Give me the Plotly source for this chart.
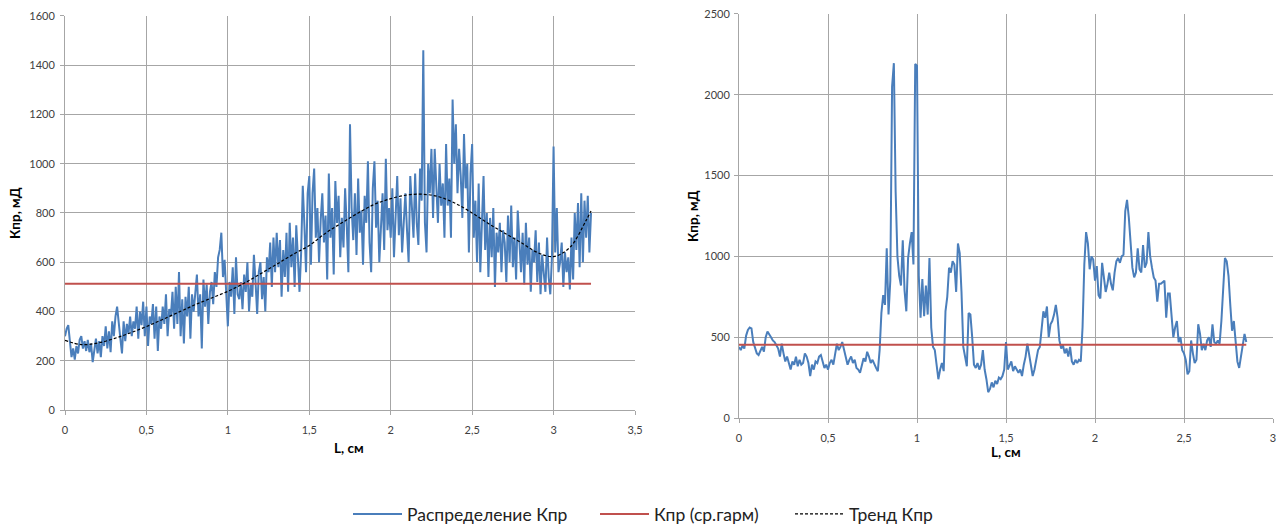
import numpy as np
import plotly.graph_objects as go

# ---------------- data ----------------
L_step = 0.01

# Left chart: permeability distribution (mD), sampled every 0.01 cm from 0
left_kpr = [
    300, 330, 345, 290, 215, 250, 205, 260, 230, 285,
    300, 250, 280, 240, 285, 235, 270, 195, 250, 290,
    230, 280, 215, 300, 260, 340, 250, 320, 235, 360,
    300, 380, 420, 340, 290, 230, 360, 280, 350, 310,
    380, 300, 360, 330, 420, 290, 400, 345, 440, 300,
    420, 260, 380, 350, 430, 290, 420, 240, 380, 330,
    420, 350, 470, 300, 410, 380, 480, 330, 500, 350,
    560, 300, 450, 270, 460, 380, 500, 290, 470, 400,
    480, 550, 380, 470, 250, 530, 420, 510, 350, 480,
    520, 430, 560, 500, 620, 650, 720, 540, 610, 480,
    340, 520, 460, 580, 390, 620, 470, 450, 520, 410,
    550, 480, 600, 400, 510, 460, 630, 520, 390, 560,
    600, 450, 540, 400, 620, 560, 680, 500, 700, 560,
    720, 580, 690, 460, 650, 540, 720, 480, 760, 580,
    700, 500, 750, 620, 480, 640, 910, 750, 560, 880,
    950, 590, 880, 980, 700, 820, 600, 770, 880, 680,
    790, 530, 960, 700, 820, 550, 930, 760, 870, 620,
    780, 660, 900, 750, 560, 1160, 820, 690, 880, 630,
    940, 720, 810, 590, 870, 760, 1010, 680, 560, 900,
    1010, 740, 850, 600, 780, 880, 650, 1020, 730, 820,
    700, 900, 620, 820, 950, 710, 860, 640, 780, 880,
    730, 600, 950, 820, 700, 960, 760, 670, 980, 850,
    1460, 760, 640, 1000, 880, 1060, 780, 1060, 920, 760,
    1000, 830, 920, 700, 1080, 830, 940, 700, 1260, 1000,
    1160, 880, 1060, 950, 780, 1120, 900, 1000, 640, 960,
    1080, 700, 850, 600, 920, 560, 760, 950, 650, 800,
    540, 780, 620, 820, 500, 720, 640, 760, 560, 730,
    680, 520, 790, 600, 830, 580, 700, 530, 810, 650,
    560, 720, 510, 760, 590, 700, 480, 650, 600, 730,
    520, 680, 470, 630, 560, 480, 700, 540, 470, 620,
    1070, 640, 820, 560, 600, 680, 500, 640, 560, 620,
    490, 700, 530, 800, 650, 840, 580, 880, 600, 850,
    700, 870, 640, 800,
]

# Left chart: harmonic mean line and trend
left_harm_L = [0, 3.23]
left_harm = [513, 513]
trend_L = [0.0, 0.1, 0.2, 0.3, 0.4, 0.5, 0.6, 0.7, 0.8, 0.9, 1.0, 1.1, 1.2, 1.3,
           1.4, 1.5, 1.6, 1.7, 1.8, 1.9, 2.0, 2.1, 2.2, 2.3, 2.4, 2.5, 2.6, 2.7,
           2.8, 2.9, 3.0, 3.1, 3.2, 3.23]
trend_kpr = [283, 266, 272, 290, 313, 339, 368, 398, 428, 455, 482, 515, 553, 592,
             632, 668, 718, 760, 800, 835, 858, 873, 876, 865, 838, 800, 757, 718,
             680, 640, 623, 660, 770, 808]

# Right chart: permeability distribution (mD), sampled every 0.01 cm from 0
right_kpr = [
    440, 420, 450, 430, 510, 545, 560, 555, 470, 430,
    400, 390, 420, 440, 410, 500, 535, 520, 500, 480,
    470, 450, 430, 380, 460, 400, 350, 380, 330, 300,
    350, 330, 380, 320, 360, 330, 340, 400, 380, 340,
    260, 330, 300, 350, 340, 380, 390, 350, 310, 330,
    300, 340, 360, 330, 400, 460, 420, 440, 470, 420,
    390, 330, 360, 380, 340, 360, 310, 300, 280, 330,
    370, 350, 410, 380, 340, 360, 330, 310, 290, 420,
    650, 760, 700, 1050, 640, 850, 2050, 2195, 1400, 1000,
    880, 820, 1100, 790, 660, 990, 1080, 1150, 950, 2190,
    2180, 880, 620, 860, 630, 820, 640, 990, 560, 440,
    420, 330, 240, 300, 340, 290, 660, 750, 930, 900,
    970, 950, 780, 1080, 1020, 780, 440, 380, 320, 650,
    640, 500, 330, 310, 340, 300, 330, 420, 300, 240,
    160, 180, 220, 190, 230, 210, 250, 240, 260, 300,
    470, 300, 330, 350, 290, 320, 300, 280, 300, 260,
    330, 380, 460, 400, 320, 260, 300, 370, 420, 440,
    560, 660, 620, 690, 500, 580, 600, 640, 700, 620,
    480, 430, 450, 400, 430, 380, 440, 350, 330, 360,
    340, 360, 350, 560, 950, 1150, 1080, 920, 1000, 980,
    850, 940, 760, 740, 960, 880, 780, 830, 900, 830,
    790, 900, 970, 990, 960, 1000, 1010, 1280, 1350, 1240,
    1050, 930, 870, 900, 1050, 920, 900, 1070, 930, 960,
    1150, 1000, 930, 870, 850, 720, 830, 830, 840, 850,
    620, 770, 770, 610, 500, 560, 600, 470, 500, 420,
    400, 360, 270, 290, 480, 400, 340, 360, 580, 520,
    420, 460, 420, 480, 500, 440, 580, 470, 460, 480,
    460, 600, 800, 990, 970, 880, 700, 540, 600, 480,
    350, 310, 380, 460, 520, 470,
]
right_harm_L = [0, 2.85]
right_harm = [454, 454]

left_xticks = [0, 0.5, 1, 1.5, 2, 2.5, 3, 3.5]
left_xtext = ["0", "0,5", "1", "1,5", "2", "2,5", "3", "3,5"]
right_xticks = [0, 0.5, 1, 1.5, 2, 2.5, 3]
right_xtext = ["0", "0,5", "1", "1,5", "2", "2,5", "3"]

legend_names = ["Распределение Кпр", "Кпр (ср.гарм)", "Тренд Кпр"]

# ---------------- figure ----------------
left_L = np.round(np.arange(len(left_kpr)) * L_step, 3)
right_L = np.round(np.arange(len(right_kpr)) * L_step, 3)

BLUE = "#4a7ebb"
RED = "#c0504d"
FONT = "Lato"

fig = go.Figure()
fig.add_trace(go.Scatter(x=left_L, y=left_kpr, mode="lines", name=legend_names[0],
                         line=dict(color=BLUE, width=2), xaxis="x", yaxis="y",
                         legend="legend"))
fig.add_trace(go.Scatter(x=left_harm_L, y=left_harm, mode="lines", name=legend_names[1],
                         line=dict(color=RED, width=2), xaxis="x", yaxis="y",
                         legend="legend2"))
fig.add_trace(go.Scatter(x=trend_L, y=trend_kpr, mode="lines", name=legend_names[2],
                         line=dict(color="#000000", width=1.2, dash="3px,2px", shape="spline"),
                         xaxis="x", yaxis="y", legend="legend3"))
fig.add_trace(go.Scatter(x=right_L, y=right_kpr, mode="lines", showlegend=False,
                         line=dict(color=BLUE, width=2), xaxis="x2", yaxis="y2"))
fig.add_trace(go.Scatter(x=right_harm_L, y=right_harm, mode="lines", showlegend=False,
                         line=dict(color=RED, width=2), xaxis="x2", yaxis="y2"))

W, H = 1285, 532
grid = "#a6a6a6"
tickfont = dict(family=FONT, size=11, color="#404040")

def xax(domain, anchor, rng, tv, tt, standoff):
    return dict(domain=domain, anchor=anchor, range=rng, tickvals=tv, ticktext=tt,
                showgrid=True, gridcolor=grid, gridwidth=1, zeroline=False,
                showline=True, linecolor=grid, linewidth=1, ticks="outside",
                ticklen=4, tickcolor=grid, tickfont=tickfont, automargin=False,
                ticklabelstandoff=standoff, fixedrange=True)

def yax(domain, anchor, rng, dt, standoff):
    return dict(domain=domain, anchor=anchor, range=rng, dtick=dt, tick0=0,
                showgrid=True, gridcolor=grid, gridwidth=1, zeroline=False,
                showline=True, linecolor=grid, linewidth=1, ticks="outside",
                ticklen=4, tickcolor=grid, tickfont=tickfont, automargin=False,
                ticklabelstandoff=standoff, fixedrange=True)

legfont = dict(family=FONT, size=17.5, color="#222222")

def leg(xpx):
    return dict(orientation="h", x=xpx / W, xanchor="left", y=1 - 519 / H, yanchor="middle",
                font=legfont, bgcolor="rgba(0,0,0,0)", borderwidth=0, itemwidth=49)

def title(text, xpx, ypx, angle=0):
    return dict(text="<b>" + text + "</b>", x=xpx / W, y=1 - ypx / H, xref="paper",
                yref="paper", xanchor="center", yanchor="middle", textangle=angle,
                showarrow=False, font=dict(family=FONT, size=13.5, color="#000000"))

fig.update_layout(
    width=W, height=H,
    margin=dict(l=0, r=0, t=0, b=0),
    paper_bgcolor="white", plot_bgcolor="white",
    font=dict(family=FONT, color="#222222"),
    xaxis=xax([65 / W, 635 / W], "y", [0, 3.5], left_xticks, left_xtext, 6),
    yaxis=yax([1 - 414 / H, 1 - 16 / H], "x", [0, 1600], 200, 3),
    xaxis2=xax([739 / W, 1273 / W], "y2", [0, 3], right_xticks, right_xtext, 6),
    yaxis2=yax([1 - 422 / H, 1 - 14 / H], "x2", [0, 2500], 500, 2),
    showlegend=True,
    legend=leg(348),
    legend2=leg(595),
    legend3=leg(790),
    annotations=[
        title("Кпр, мД", 15, 215, -90),
        title("L, см", 349, 452),
        title("Кпр, мД", 693, 218, -90),
        title("L, см", 1006, 456),
    ],
)

fig.write_html("out.html")
